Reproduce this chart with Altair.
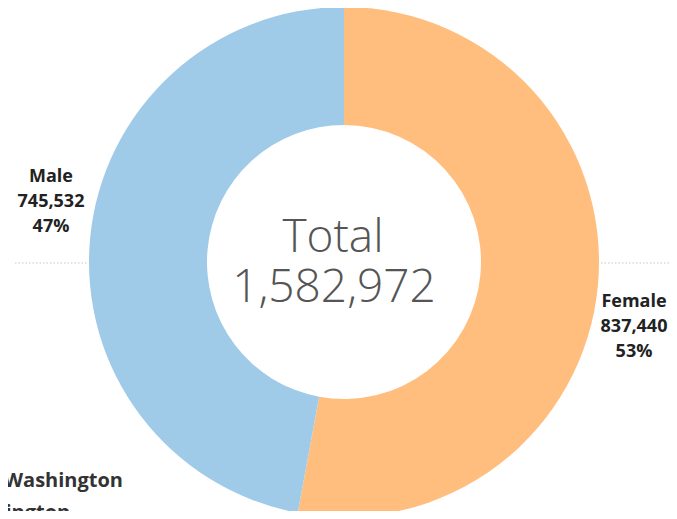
import altair as alt
import pandas as pd

# ---- data ----
genders = ["Female", "Male"]
counts = [837440, 745532]
colors = ["#ffbe7d", "#a0cbe8"]
footer_lines = ["Geography:", "State of Washington", "Washington"]

total = sum(counts)
pcts = [round(c / total * 100) for c in counts]

df = pd.DataFrame({
    "gender": genders,
    "count": counts,
    "order": list(range(len(genders))),
    "label": [f"{g}\n{c:,}\n{p}%" for g, c, p in zip(genders, counts, pcts)],
})

W, H = 661, 503
CX, CY = 336, 254

color_scale = alt.Scale(domain=genders, range=colors)

donut = alt.Chart(df).mark_arc(innerRadius=137, outerRadius=255, stroke=None).encode(
    theta=alt.Theta("count:Q", stack=True),
    order=alt.Order("order:Q"),
    color=alt.Color("gender:N", scale=color_scale, legend=None),
    x=alt.value(CX),
    y=alt.value(CY),
)

label_style = dict(font="Open Sans", fontWeight="bold", fontSize=18, color="#222222",
                   lineBreak="\n", lineHeight=25, align="center", baseline="alphabetic")

male_label = alt.Chart(df).transform_filter(alt.datum.gender == "Male").mark_text(**label_style).encode(
    text="label:N", x=alt.value(43), y=alt.value(174))
female_label = alt.Chart(df).transform_filter(alt.datum.gender == "Female").mark_text(**label_style).encode(
    text="label:N", x=alt.value(626), y=alt.value(299))

center_df = pd.DataFrame({"t": ["Total", f"{total:,}"], "row": [0, 1]})
center_style = dict(font="Open Sans", fontWeight=300, fontSize=46, color="#555555",
                    align="center", baseline="alphabetic")
center1 = alt.Chart(center_df).transform_filter(alt.datum.row == 0).mark_text(**center_style).encode(
    text="t:N", x=alt.value(325), y=alt.value(244))
center2 = alt.Chart(center_df).transform_filter(alt.datum.row == 1).mark_text(**center_style).encode(
    text="t:N", x=alt.value(326), y=alt.value(294))

rule_style = dict(color="#c8c8c8", strokeDash=[1.5, 2], strokeWidth=1.2)
rule_left = alt.Chart(df).transform_filter(alt.datum.order == 0).mark_rule(**rule_style).encode(
    x=alt.value(7), x2=alt.value(79), y=alt.value(255))
rule_right = alt.Chart(df).transform_filter(alt.datum.order == 0).mark_rule(**rule_style).encode(
    x=alt.value(593), x2=alt.value(661), y=alt.value(255))

foot_df = pd.DataFrame({"t": footer_lines, "row": [0, 1, 2]})
foot_style = dict(font="Open Sans", fontWeight="bold", fontSize=20, color="#333333",
                  baseline="alphabetic")
foot0 = alt.Chart(foot_df).transform_filter(alt.datum.row == 0).mark_text(align="right", **foot_style).encode(
    text="t:N", x=alt.value(-4), y=alt.value(445))
foot1 = alt.Chart(foot_df).transform_filter(alt.datum.row == 1).mark_text(align="right", **foot_style).encode(
    text="t:N", x=alt.value(115), y=alt.value(479))
foot2 = alt.Chart(foot_df).transform_filter(alt.datum.row == 2).mark_text(align="left", **foot_style).encode(
    text="t:N", x=alt.value(-57), y=alt.value(511))

chart = alt.layer(
    rule_left, rule_right, donut, male_label, female_label, center1, center2, foot0, foot1, foot2
).properties(
    width=W, height=H, autosize=alt.AutoSizeParams(type="none"), padding=0,
).configure_view(stroke=None)

chart.save("out.html", embed_options={"renderer": "svg", "actions": False})
